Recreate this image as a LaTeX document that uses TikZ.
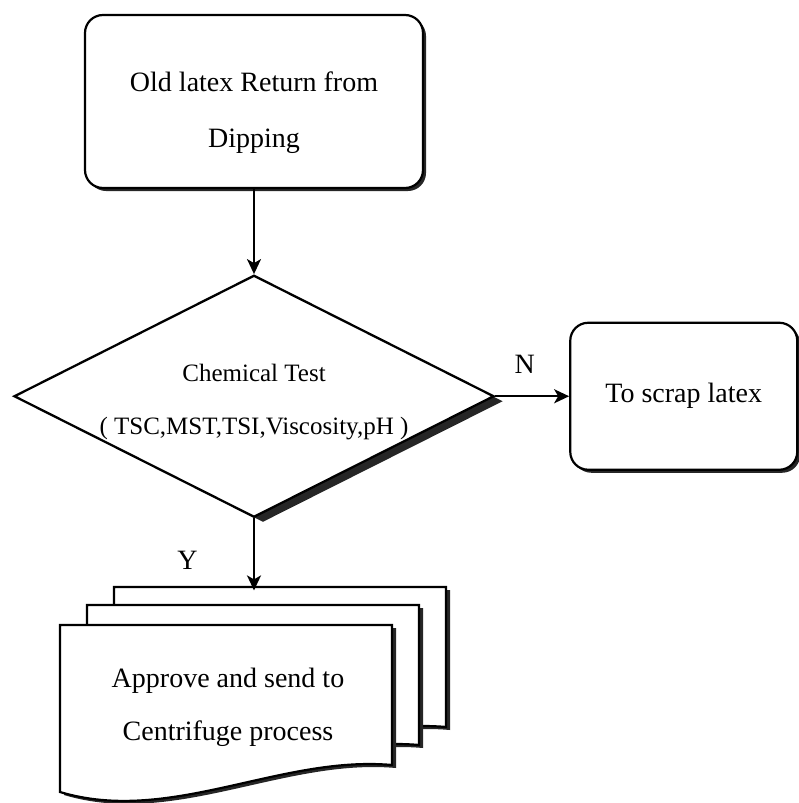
\documentclass[tikz,border=0pt]{standalone}
\usepackage{fontspec}
\setmainfont{Liberation Serif}
\usepackage{tikz}
\usetikzlibrary{positioning}
\usetikzlibrary{arrows.meta}
\usetikzlibrary{shapes.geometric}
\usetikzlibrary{shadows}
\tikzset{every edge/.style={ % Sets the properties for each connector
			draw,
			-{Stealth[length=15pt,width=14pt,inset=4pt]},
			line width=2pt}}
\tikzset{stepbox/.style={ % rounded process boxes
			draw,
			fill=white,
			line width=2.2pt,
			rounded corners=18pt,
			drop shadow={shadow xshift=3pt, shadow yshift=-3pt, opacity=1, fill=black!85}}}
\tikzset{testdiamond/.style={ % the decision
			shape=diamond,
			draw,
			fill=white,
			line width=2.3pt,
			aspect=2,
			inner sep=0pt,
			minimum width=480pt,
			minimum height=242pt,
			font=\fontsize{25}{53}\selectfont,
			drop shadow={shadow xshift=9pt, shadow yshift=-5pt, opacity=1, fill=black!85}}}
\tikzset{docpage/.style={ % one sheet of the document stack
			draw,
			fill=white,
			line width=2.2pt,
			drop shadow={shadow xshift=4pt, shadow yshift=-3pt, opacity=1, fill=black!85}}}

\begin{document}
\begin{tikzpicture}[x=1pt, y=-1pt, align=center, font=\fontsize{28}{56}\selectfont]
			\useasboundingbox (0,0) rectangle (798,803);
			\node [stepbox, minimum width=338pt, minimum height=173pt] (old) at (254,101.5) {\rule{0pt}{43pt}Old latex Return from\\ Dipping};
			\node [testdiamond, below=85pt of old] (test) {\rule{0pt}{29pt}Chemical Test\\ \makebox[0pt]{( TSC,MST,TSI,Viscosity,pH )}};
			\node [stepbox, right=74pt of test, minimum width=227pt, minimum height=147pt] (scrap) {To scrap latex};
			\coordinate [below=72pt of test] (backtop);
			
			\foreach \dx/\dy in {54/-38, 27/-20, 0/0}
				\draw [docpage, shift={(\dx,\dy)}] (60,625) -- (392,625) -- (392,765) .. controls (280,755) and (170,825) .. (60,792) -- cycle;
			\node [font=\fontsize{28}{53}\selectfont] (approve) at (228,707) {Approve and send to\\ Centrifuge process};
			
			\draw (old) edge (test)
				(test) edge node [above=18pt, pos=0.4] (nlab) {N} (scrap)
				(test) edge node [left=52pt, pos=0.58] (ylab) {Y} (backtop);
		\end{tikzpicture}
\end{document}
